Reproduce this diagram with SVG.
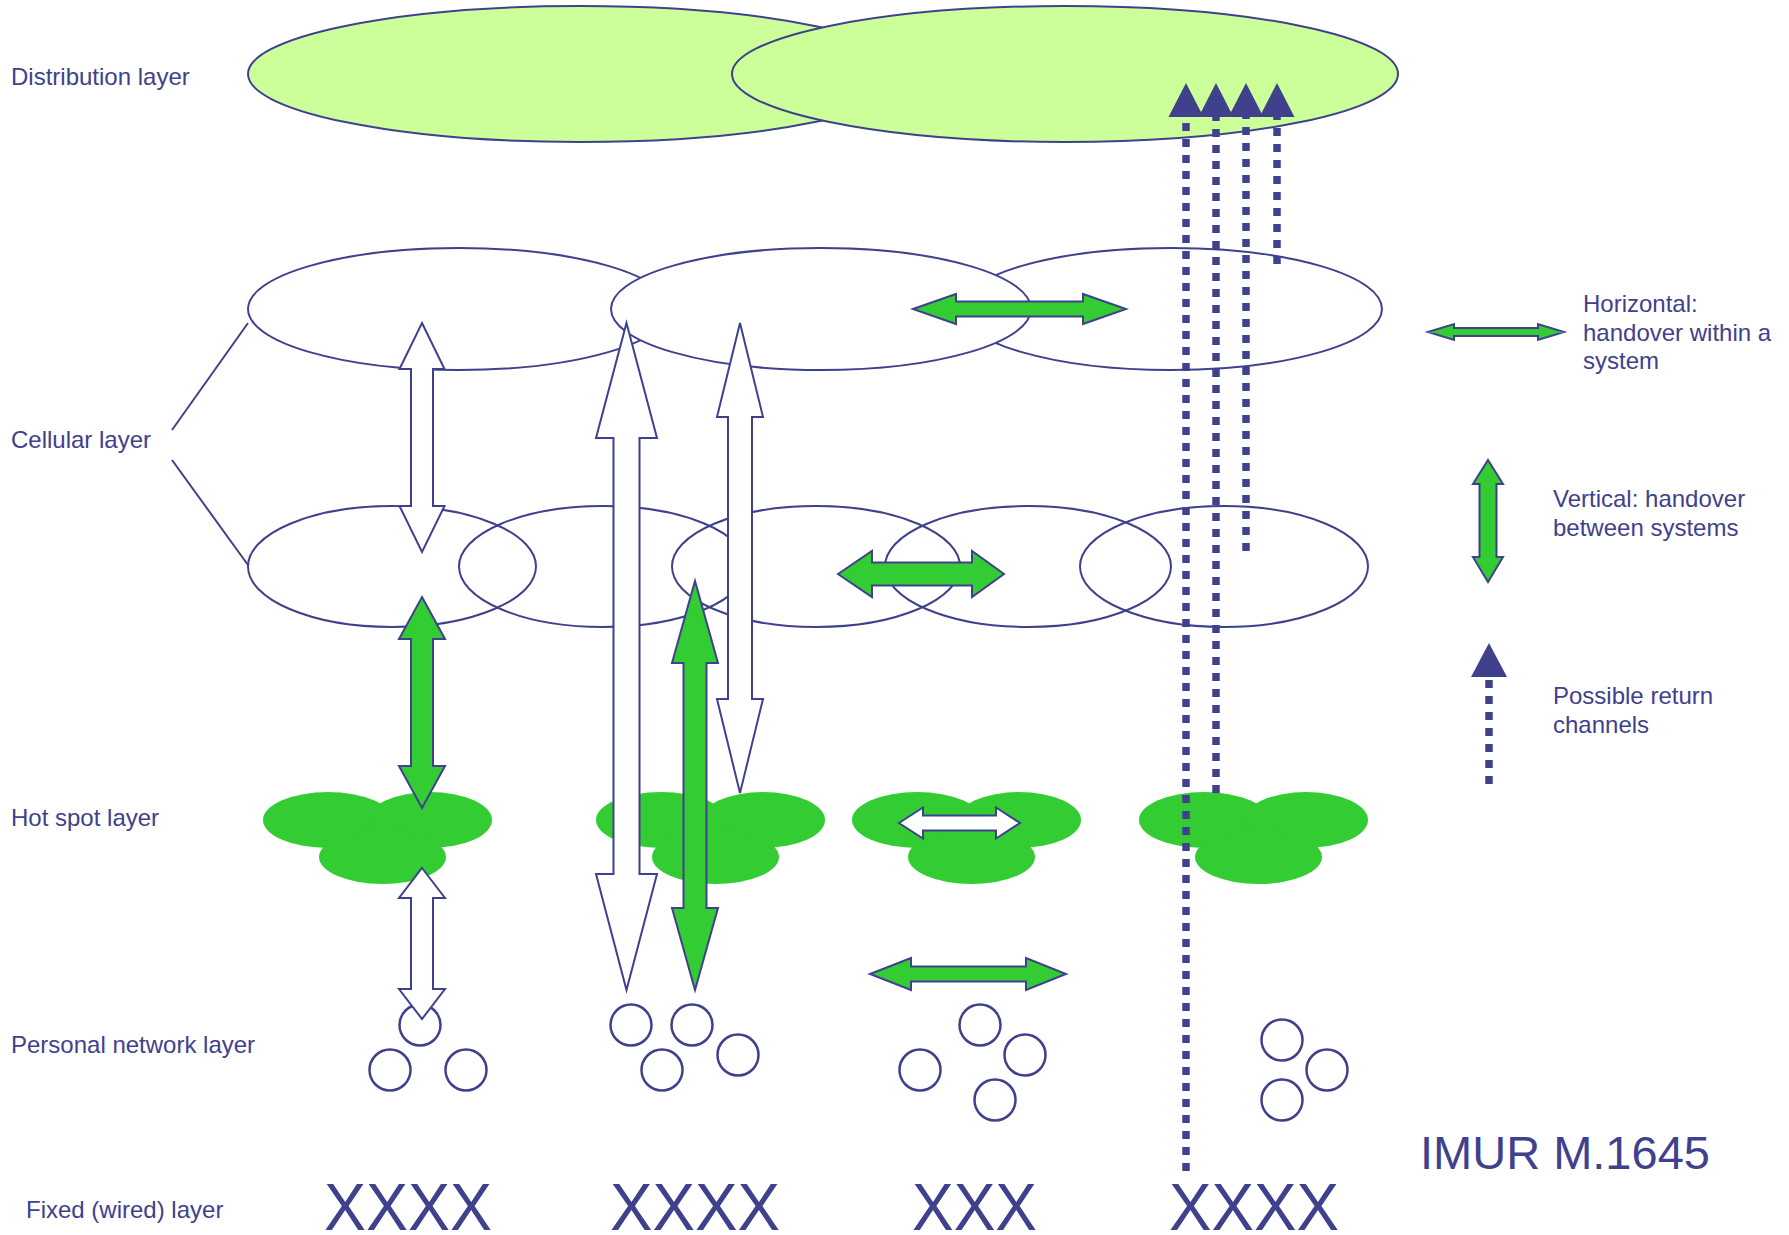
<svg xmlns="http://www.w3.org/2000/svg" xmlns:xlink="http://www.w3.org/1999/xlink" width="1789" height="1235" viewBox="0 0 1789 1235">
  <style>
    .label { font-family: "Liberation Sans", Arial, sans-serif; font-size: 24px; fill: #3f418d; }
    .big { font-family: "Liberation Sans", Arial, sans-serif; font-size: 47px; fill: #3f418d; }
    .wire { font-family: "Liberation Sans", Arial, sans-serif; font-size: 66px; fill: #3f418d; }
    .dist { fill: #ccff99; stroke: #3f418d; stroke-width: 2; }
    .cellw { fill: #ffffff; stroke: #3f418d; stroke-width: 2; }
    .cell { fill: none; stroke: #3f418d; stroke-width: 2; }
    .spot { fill: #33cc33; }
    .pn { fill: none; stroke: #3f418d; stroke-width: 2.5; }
    .arr-w { fill: #ffffff; stroke: #3f418d; stroke-width: 2; stroke-linejoin: miter; }
    .arr-g { fill: #33cc33; stroke: #3f418d; stroke-width: 2; stroke-linejoin: miter; }
    .ret { stroke: #3f418d; stroke-width: 7.5; stroke-dasharray: 8 8; fill: none; }
    .tri { fill: #3f418d; }
    .brace { stroke: #3f418d; stroke-width: 2; fill: none; }
  </style>
  <defs>
    <!-- hot spot cluster: three overlapping coverage areas, origin at left edge -->
    <g id="hotspot">
      <ellipse class="spot" cx="65" cy="820" rx="65" ry="28"/>
      <ellipse class="spot" cx="167" cy="820" rx="62" ry="28"/>
      <ellipse class="spot" cx="119.5" cy="857" rx="63.5" ry="27"/>
    </g>
  </defs>

  <!-- layer labels -->
  <g id="labels">
    <text class="label" x="11" y="85">Distribution layer</text>
    <text class="label" x="11" y="448">Cellular layer</text>
    <text class="label" x="11" y="826">Hot spot layer</text>
    <text class="label" x="11" y="1053">Personal network layer</text>
    <text class="label" x="26" y="1218">Fixed (wired) layer</text>
    <path class="brace" d="M248,323 L172,430 M172,460 L248,565"/>
  </g>

  <!-- distribution layer -->
  <g id="distribution">
    <ellipse class="dist" cx="580" cy="74" rx="332" ry="68"/>
    <ellipse class="dist" cx="1065" cy="74" rx="333" ry="68"/>
  </g>

  <!-- cellular layer, upper row -->
  <g id="cellular-upper">
    <ellipse class="cellw" cx="459" cy="309" rx="211" ry="61"/>
    <ellipse class="cellw" cx="1171" cy="309" rx="211" ry="61"/>
    <ellipse class="cellw" cx="821" cy="309" rx="210" ry="61"/>
  </g>

  <!-- cellular layer, lower row -->
  <g id="cellular-lower">
    <ellipse class="cell" cx="392" cy="566.5" rx="144" ry="60.5"/>
    <ellipse class="cell" cx="603" cy="566.5" rx="144" ry="60.5"/>
    <ellipse class="cell" cx="816" cy="566.5" rx="144" ry="60.5"/>
    <ellipse class="cell" cx="1028" cy="566.5" rx="143" ry="60.5"/>
    <ellipse class="cell" cx="1224" cy="566.5" rx="144" ry="60.5"/>
  </g>

  <!-- hot spot layer -->
  <g id="hotspots">
    <use xlink:href="#hotspot" href="#hotspot" x="263"/>
    <use xlink:href="#hotspot" href="#hotspot" x="596"/>
    <use xlink:href="#hotspot" href="#hotspot" x="852"/>
    <use xlink:href="#hotspot" href="#hotspot" x="1139"/>
  </g>

  <!-- personal network layer -->
  <g id="personal">
    <circle class="pn" cx="420" cy="1025" r="20.5"/>
    <circle class="pn" cx="390" cy="1070" r="20.5"/>
    <circle class="pn" cx="466" cy="1070" r="20.5"/>
    <circle class="pn" cx="631" cy="1025" r="20.5"/>
    <circle class="pn" cx="692" cy="1025" r="20.5"/>
    <circle class="pn" cx="662" cy="1070" r="20.5"/>
    <circle class="pn" cx="738" cy="1055" r="20.5"/>
    <circle class="pn" cx="980" cy="1025" r="20.5"/>
    <circle class="pn" cx="1025" cy="1055" r="20.5"/>
    <circle class="pn" cx="920" cy="1070" r="20.5"/>
    <circle class="pn" cx="995" cy="1100" r="20.5"/>
    <circle class="pn" cx="1282" cy="1040" r="20.5"/>
    <circle class="pn" cx="1327" cy="1070" r="20.5"/>
    <circle class="pn" cx="1282" cy="1100" r="20.5"/>
  </g>

  <!-- fixed (wired) layer -->
  <g id="fixed">
    <text class="wire" x="324" y="1230" textLength="168" lengthAdjust="spacingAndGlyphs">XXXX</text>
    <text class="wire" x="610" y="1230" textLength="170" lengthAdjust="spacingAndGlyphs">XXXX</text>
    <text class="wire" x="912" y="1230" textLength="125" lengthAdjust="spacingAndGlyphs">XXX</text>
    <text class="wire" x="1169" y="1230" textLength="170" lengthAdjust="spacingAndGlyphs">XXXX</text>
  </g>

  <!-- handover arrows -->
  <g id="connectors">
    <polygon class="arr-w" points="422,323 444.5,369 433,369 433,506 444.5,506 422,552 399.5,506 411,506 411,369 399.5,369"/>
    <polygon class="arr-g" points="422,597 445,639 433,639 433,766 445,766 422,808 399,766 411,766 411,639 399,639"/>
    <polygon class="arr-w" points="422,868 445,898 433,898 433,989 445,989 422,1019 399,989 411,989 411,898 399,898"/>
    <polygon class="arr-w" points="626.5,323 657,438 639.5,438 639.5,874 657,874 626.5,990 596,874 613.5,874 613.5,438 596,438"/>
    <polygon class="arr-w" points="740,323 763,417 752,417 752,699 763,699 740,793 717,699 728,699 728,417 717,417"/>
    <polygon class="arr-g" points="695,581 718,663 706.5,663 706.5,908 718,908 695,990 672,908 683.5,908 683.5,663 672,663"/>
    <polygon class="arr-g" points="913,309 956,294 956,301.5 1083,301.5 1083,294 1126,309 1083,324 1083,316.5 956,316.5 956,324"/>
    <polygon class="arr-g" points="838,574 872,551 872,562.5 972,562.5 972,551 1004,574 972,597 972,585.5 872,585.5 872,597"/>
    <polygon class="arr-w" points="899,823 923,807.5 923,815.5 996,815.5 996,807.5 1020,823 996,838.5 996,830.5 923,830.5 923,838.5"/>
    <polygon class="arr-g" points="870,974 911,958 911,966.5 1026,966.5 1026,958 1066,974 1026,990 1026,981.5 911,981.5 911,990"/>

    <!-- return channels -->
    <line class="ret" x1="1186" y1="107" x2="1186" y2="1171"/>
    <line class="ret" x1="1216" y1="113" x2="1216" y2="793"/>
    <line class="ret" x1="1246" y1="111" x2="1246" y2="551"/>
    <line class="ret" x1="1277" y1="112" x2="1277" y2="264"/>
    <polygon class="tri" points="1186,83 1203.5,117 1168.5,117"/>
    <polygon class="tri" points="1216,83 1233.5,117 1198.5,117"/>
    <polygon class="tri" points="1246,83 1263.5,117 1228.5,117"/>
    <polygon class="tri" points="1277,83 1294.5,117 1259.5,117"/>
  </g>

  <!-- legend -->
  <g id="legend">
    <polygon class="arr-g" points="1428,332 1454,324 1454,328 1538,328 1538,324 1564,332 1538,340 1538,336 1454,336 1454,340"/>
    <text class="label" x="1583" y="312">Horizontal:</text>
    <text class="label" x="1583" y="341">handover within a</text>
    <text class="label" x="1583" y="369">system</text>

    <polygon class="arr-g" points="1488,460 1503,484 1496.5,484 1496.5,557 1503,557 1488,582 1473,557 1479.5,557 1479.5,484 1473,484"/>
    <text class="label" x="1553" y="507">Vertical: handover</text>
    <text class="label" x="1553" y="536">between systems</text>

    <line class="ret" x1="1489" y1="680" x2="1489" y2="792"/>
    <polygon class="tri" points="1489,643 1507,677 1471,677"/>
    <text class="label" x="1553" y="704">Possible return</text>
    <text class="label" x="1553" y="733">channels</text>
  </g>

  <g id="title">
    <text class="big" x="1420" y="1169">IMUR M.1645</text>
  </g>
</svg>
